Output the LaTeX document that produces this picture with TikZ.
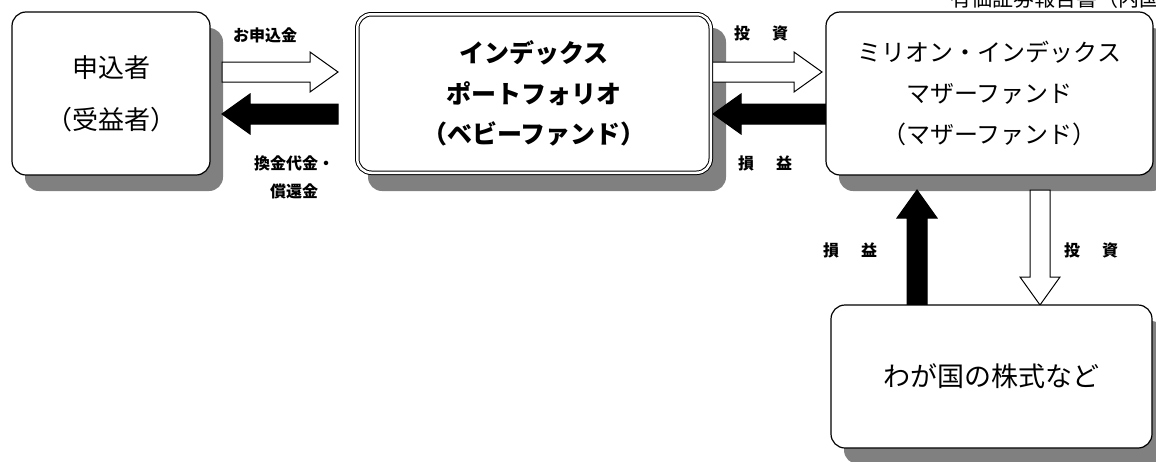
\documentclass[tikz,border=0pt]{standalone}
\usepackage{fontspec}
\newfontfamily\jp{Noto Sans CJK JP}
\usetikzlibrary{calc}
\definecolor{shadowgray}{RGB}{128,128,128}
\newcommand\blockarrow[3]{%
  \draw[#3] let \p1=(#1), \p2=(#2), \n1={atan2(\y2-\y1,\x2-\x1)}, \n2={veclen(\x2-\x1,\y2-\y1)-28} in
    ({\x1+10*sin(\n1)},{\y1-10*cos(\n1)})
    -- ({\x1+\n2*cos(\n1)+10*sin(\n1)},{\y1+\n2*sin(\n1)-10*cos(\n1)})
    -- ({\x1+\n2*cos(\n1)+20*sin(\n1)},{\y1+\n2*sin(\n1)-20*cos(\n1)})
    -- (\p2)
    -- ({\x1+\n2*cos(\n1)-20*sin(\n1)},{\y1+\n2*sin(\n1)+20*cos(\n1)})
    -- ({\x1+\n2*cos(\n1)-10*sin(\n1)},{\y1+\n2*sin(\n1)+10*cos(\n1)})
    -- ({\x1-10*sin(\n1)},{\y1+10*cos(\n1)}) -- cycle;}
\begin{document}
\begin{tikzpicture}[x=1pt,y=-1pt,
  box/.style={draw, line width=1.2pt, rounded corners=14pt, fill=white, inner sep=0pt, align=center},
  shade/.style={fill=shadowgray, rounded corners=14pt, inner sep=0pt},
  lbl/.style={font=\jp\bfseries\fontsize{16}{28}\selectfont, inner sep=0pt, align=center},
  warrow/.style={draw, fill=white, line width=1pt, line join=miter},
  barrow/.style={draw, fill=black, line width=1pt, line join=miter}]
\useasboundingbox (0,0) rectangle (1156,461);
% shadows
\node[shade, minimum width=198pt, minimum height=163pt] (s1) at (124,109.5) {};
\node[shade, minimum width=358pt, minimum height=163pt] (s2) at (547,109.5) {};
\node[shade, minimum width=327pt, minimum height=163pt] (s3) at (1002.5,109.5) {};
\node[shade, minimum width=321pt, minimum height=143pt] (s4) at (1004.5,392.5) {};
% arrow end points
\coordinate (a1s) at (222,72);  \coordinate (a1e) at (338,72);
\coordinate (a2s) at (338,114); \coordinate (a2e) at (222,114);
\coordinate (a3s) at (710,72);  \coordinate (a3e) at (822,72);
\coordinate (a4s) at (826,114); \coordinate (a4e) at (713,114);
\coordinate (a5s) at (917,305); \coordinate (a5e) at (917,190);
\coordinate (a6s) at (1040,190); \coordinate (a6e) at (1040,305);
\blockarrow{a1s}{a1e}{warrow}
\blockarrow{a2s}{a2e}{barrow}
\blockarrow{a3s}{a3e}{warrow}
\blockarrow{a4s}{a4e}{barrow}
\blockarrow{a5s}{a5e}{barrow}
\blockarrow{a6s}{a6e}{warrow}
% boxes
\node[box, minimum width=198pt, minimum height=163pt, font=\jp\fontsize{26}{52}\selectfont] (b1) at (111,93.5) {申込者\\（受益者）};
\node[box, double, double distance=2.5pt, line width=1pt, minimum width=353.5pt, minimum height=158.5pt, font=\jp\bfseries\fontsize{25}{40.5}\selectfont] (b2) at (534,93.5) {インデックス\\ポートフォリオ\\（ベビーファンド）};
\node[box, minimum width=327pt, minimum height=163pt, font=\jp\fontsize{24}{41}\selectfont] (b3) at (989.5,93.5) {ミリオン・インデックス\\マザーファンド\\（マザーファンド）};
\node[box, minimum width=321pt, minimum height=143pt, font=\jp\fontsize{27}{32}\selectfont] (b4) at (991.5,376.5) {わが国の株式など};
% labels
\node[lbl] (l1) at (265,35) {お申込金};
\node[lbl] (l2) at (294,177) {換金代金・\\償還金};
\node[lbl] (l3) at (761,33) {投\hspace{22pt}資};
\node[lbl] (l4) at (765,163) {損\hspace{22pt}益};
\node[lbl] (l5) at (850,250) {損\hspace{22pt}益};
\node[lbl] (l6) at (1091,250) {投\hspace{22pt}資};
% header
\node[anchor=base west, inner sep=0pt, font=\jp\fontsize{21}{21}\selectfont] (hdr) at (950,6) {有価証券報告書（内国投資信託受益証券）};
\end{tikzpicture}
\end{document}
